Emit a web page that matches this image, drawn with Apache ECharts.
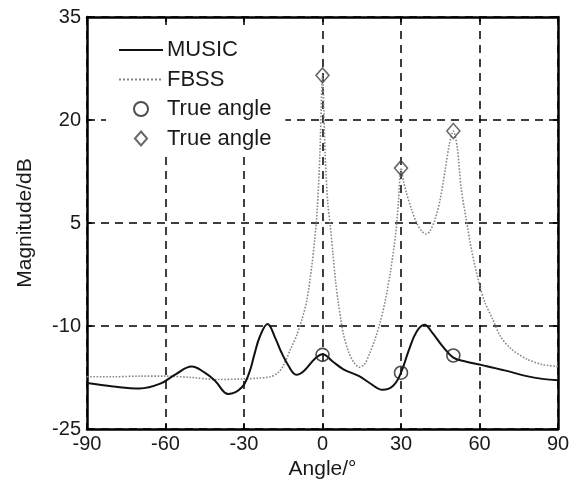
<!DOCTYPE html>
<html>
<head>
    <meta charset="utf-8">
    <title>MUSIC vs FBSS</title>
    <script src="https://cdn.jsdelivr.net/npm/echarts@6/dist/echarts.min.js"></script>
</head>
<body style="margin:0;background:#fff;">
<div id="main" style="width:579px;height:480px;"></div>
<script type="text/javascript">
    // data (angle in degrees, magnitude in dB)
    var musicAngle = [-90, -80, -70, -62, -56, -50, -45, -41, -36, -31, -28, -26, -24, -21, -18, -16, -13, -10, -7, -3, 0, 4, 8, 14, 18, 23, 27, 30, 33, 36, 39, 42, 46, 50, 55, 61, 70, 78, 84, 90];
    var musicDb = [-18.3, -18.8, -19.1, -18.4, -17.0, -15.9, -16.8, -18.0, -19.9, -19.0, -16.8, -14.1, -11.6, -9.7, -11.8, -13.6, -15.8, -17.1, -16.5, -14.8, -14.1, -15.2, -16.3, -17.3, -18.3, -19.3, -18.7, -16.8, -13.5, -10.8, -9.8, -11.0, -13.0, -14.6, -15.2, -15.7, -16.5, -17.3, -17.7, -17.9];

    var fbssAngle = [-90, -80, -70, -60, -50, -40, -30, -25, -20, -17, -15, -12, -10, -8, -6, -4, -3, -2, -1, 0, 1, 2, 3, 4, 5, 6, 7, 8, 10, 12, 14, 16, 18, 20, 22, 24, 26, 28, 29, 30, 31, 32, 34, 36, 38, 39.5, 41, 43, 45, 47, 48.5, 50, 51.5, 53, 55, 57, 60, 62, 65, 68, 72, 78, 84, 90];
    var fbssDb = [-17.4, -17.4, -17.3, -17.3, -17.5, -17.8, -17.7, -17.6, -17.4, -16.8, -15.8, -13.2, -11.5, -9.2, -6.3, -1.0, 2.5, 7.0, 15.0, 26.5, 15.0, 8.0, 4.5, 0.5, -3.5, -6.5, -9.0, -11.2, -13.8, -15.3, -16.0, -15.6, -14.0, -12.0, -9.5, -6.3, -2.0, 3.5, 8.0, 13.0, 11.0, 9.5, 7.0, 5.0, 3.8, 3.4, 3.8, 5.5, 8.5, 13.0, 16.5, 18.4, 16.0, 10.0, 5.4, 1.0, -4.0, -6.5, -9.0, -11.5, -13.3, -14.8, -15.6, -15.9];

    var trueAngle = [0, 30, 50];
    var circleDb = [-14.2, -16.8, -14.3];
    var diamondDb = [26.5, 13.0, 18.4];

    var xTicks = [-90, -60, -30, 0, 30, 60, 90];
    var yTicks = [-25, -10, 5, 20, 35];

    // y axis runs 0..60 internally so the 15 dB interval starts at a multiple of it
    var yOffset = -yTicks[0];

    function pairs(xs, ys) {
        return xs.map(function (x, i) { return [x, ys[i] + yOffset]; });
    }

    var font = 'Liberation Sans, Arial, sans-serif';
    var txt = '#1a1a1a';
    var dashGrid = { show: true, lineStyle: { color: '#000', type: [8, 6], width: 1.5 } };
    var boxLine = { show: true, onZero: false, lineStyle: { color: '#000', width: 2.5 } };
    var inTick = { show: true, inside: true, length: 5, lineStyle: { color: '#000', width: 1.5 } };

    var myChart = echarts.init(document.getElementById('main'));
    myChart.setOption({
        animation: false,
        grid: { left: 87, right: 21, top: 17, bottom: 51, containLabel: false, outerBoundsMode: 'none' },
        legend: {
            orient: 'vertical',
            left: 106,
            top: 31,
            padding: [8, 14, 6, 12],
            backgroundColor: '#fff',
            itemWidth: 44,
            itemHeight: 14,
            itemGap: 7.5,
            textStyle: { fontFamily: font, fontSize: 22, color: txt, padding: [0, 0, 0, -1] },
            data: [
                { name: 'MUSIC', itemStyle: { opacity: 0 } },
                { name: 'FBSS', itemStyle: { opacity: 0 } },
                { name: 'True angle', icon: 'circle' },
                { name: 'True angle ', icon: 'path://M6.5,0L13,7.5L6.5,15L0,7.5Z' }
            ],
            formatter: function (n) { return n.trim(); }
        },
        xAxis: [{
            type: 'value',
            min: xTicks[0],
            max: xTicks[xTicks.length - 1],
            interval: 30,
            name: 'Angle/°',
            nameLocation: 'middle',
            nameGap: 26,
            nameTextStyle: { fontFamily: font, fontSize: 21, color: txt },
            axisLine: boxLine,
            axisTick: inTick,
            axisLabel: { fontFamily: font, fontSize: 20, color: txt, margin: 5 },
            splitLine: dashGrid
        }, {
            type: 'value',
            position: 'top',
            min: xTicks[0],
            max: xTicks[xTicks.length - 1],
            interval: 30,
            axisLine: boxLine,
            axisTick: inTick,
            axisLabel: { show: false },
            splitLine: { show: false }
        }],
        yAxis: [{
            type: 'value',
            min: 0,
            max: yTicks[yTicks.length - 1] + yOffset,
            interval: 15,
            name: 'Magnitude/dB',
            nameLocation: 'middle',
            nameGap: 51,
            nameTextStyle: { fontFamily: font, fontSize: 21, color: txt },
            axisLine: boxLine,
            axisTick: inTick,
            axisLabel: {
                fontFamily: font, fontSize: 20, color: txt, margin: 6,
                formatter: function (v) { return String(v - yOffset); }
            },
            splitLine: dashGrid
        }, {
            type: 'value',
            position: 'right',
            min: 0,
            max: yTicks[yTicks.length - 1] + yOffset,
            interval: 15,
            axisLine: boxLine,
            axisTick: inTick,
            axisLabel: { show: false },
            splitLine: { show: false }
        }],
        series: [
            {
                name: 'MUSIC',
                type: 'line',
                data: pairs(musicAngle, musicDb),
                smooth: 0.4,
                symbol: 'none',
                lineStyle: { color: '#111', width: 2 },
                itemStyle: { color: '#111' },
                z: 4
            },
            {
                name: 'FBSS',
                type: 'line',
                data: pairs(fbssAngle, fbssDb),
                smooth: 0.3,
                symbol: 'none',
                lineStyle: { color: '#888', width: 1.6, type: 'dotted' },
                itemStyle: { color: '#888' },
                z: 3
            },
            {
                name: 'True angle',
                type: 'scatter',
                data: pairs(trueAngle, circleDb),
                symbol: 'circle',
                symbolSize: 13,
                itemStyle: { color: 'rgba(0,0,0,0)', borderColor: '#222', borderWidth: 1.6 },
                z: 5
            },
            {
                name: 'True angle ',
                type: 'scatter',
                data: pairs(trueAngle, diamondDb),
                symbol: 'diamond',
                symbolSize: [13, 15],
                itemStyle: { color: 'rgba(0,0,0,0)', borderColor: '#444', borderWidth: 1.6 },
                z: 5
            }
        ]
    });
</script>
</body>
</html>
